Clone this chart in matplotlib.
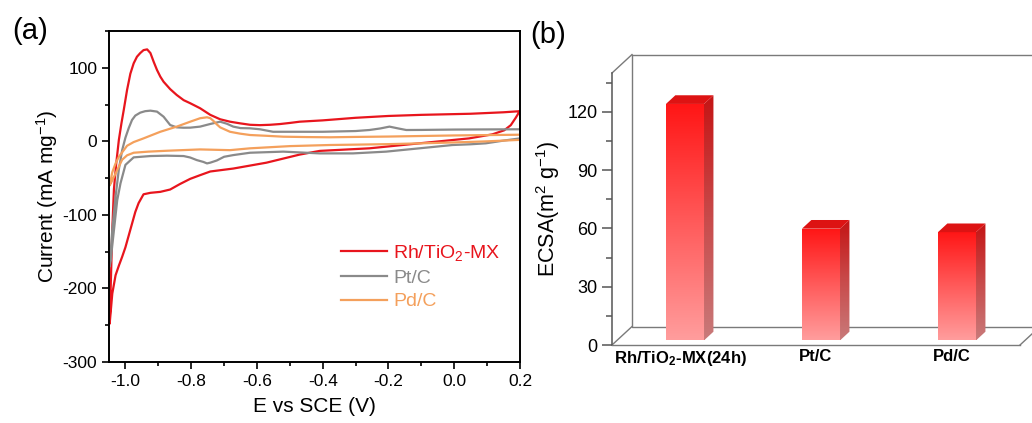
import numpy as np
import matplotlib.pyplot as plt
from matplotlib.colors import LinearSegmentedColormap
from matplotlib.patches import Polygon
from matplotlib.ticker import MultipleLocator

plt.rcParams['font.family'] = ['Liberation Sans', 'DejaVu Sans']
plt.rcParams['mathtext.fontset'] = 'custom'
plt.rcParams['mathtext.rm'] = 'Liberation Sans'
plt.rcParams['mathtext.it'] = 'Liberation Sans:italic'
plt.rcParams['mathtext.bf'] = 'Liberation Sans:bold'
plt.rcParams['axes.unicode_minus'] = False

# (a) CV curves
rh_up_x = [-1.048, -1.044, -1.040, -1.035, -1.028, -1.020, -1.012, -1.005, -0.995, -0.985,
           -0.975, -0.965, -0.955, -0.945, -0.934, -0.924, -0.914, -0.904, -0.894, -0.884,
           -0.864, -0.844, -0.823, -0.803, -0.773, -0.742, -0.712, -0.682, -0.652, -0.621,
           -0.591, -0.560, -0.530, -0.500, -0.470, -0.40, -0.30, -0.20, -0.10, 0.0, 0.05,
           0.10, 0.15, 0.20]
rh_up_y = [-248, -185, -120, -65, -30, 2, 25, 43, 70, 92,
           106, 115, 120, 124, 125, 120, 108, 97, 88, 81,
           71, 63, 56, 51.8, 45, 36, 30, 26.7, 24.5, 22.5,
           22, 22.5, 23.5, 25, 26.7, 28.5, 32, 34.5, 36, 37, 37.5,
           38.5, 39.5, 41]
rh_dn_x = [0.20, 0.195, 0.187, 0.172, 0.152, 0.116, 0.045, -0.106, -0.258, -0.409,
           -0.47, -0.571, -0.672, -0.742, -0.773, -0.803, -0.834, -0.864, -0.894, -0.924,
           -0.945, -0.960, -0.970, -0.980, -0.990, -1.000, -1.010, -1.020, -1.030, -1.040,
           -1.048]
rh_dn_y = [41, 38, 32, 22, 15, 9.5, 4, -2.7, -9.5, -13,
           -18, -29, -37, -41, -46, -51, -58, -65.5, -68.7, -70,
           -72, -84, -96, -112, -128, -144, -157, -169, -182, -207,
           -248]

pt_up_x = [-1.048, -1.040, -1.030, -1.020, -1.010, -1.000, -0.990, -0.980, -0.970, -0.955,
           -0.940, -0.924, -0.904, -0.884, -0.864, -0.844, -0.823, -0.803, -0.773, -0.742,
           -0.712, -0.692, -0.672, -0.650, -0.621, -0.591, -0.551, -0.50, -0.40, -0.30,
           -0.258, -0.225, -0.197, -0.170, -0.146, -0.10, 0.0, 0.10, 0.20]
pt_up_y = [-170, -120, -75, -38, -12, 5, 18, 29, 35, 39,
           41, 41.7, 40.4, 33.5, 22.2, 19, 18.5, 18.6, 20, 23.6,
           26.7, 24, 20, 18, 17.7, 16.4, 13, 13, 13, 14,
           15.4, 17.5, 20, 17.5, 15.4, 15.5, 16, 16.2, 16.4]
pt_dn_x = [0.20, 0.15, 0.096, 0.05, -0.005, -0.106, -0.207, -0.308, -0.409, -0.52,
           -0.621, -0.672, -0.700, -0.722, -0.742, -0.752, -0.763, -0.783, -0.803, -0.823,
           -0.874, -0.924, -0.975, -1.000, -1.015, -1.025, -1.036, -1.045, -1.048]
pt_dn_y = [4, 1, -2.7, -4, -5, -9.5, -14, -16.4, -16.4, -14,
           -15.5, -18.7, -21, -26, -29, -30, -28, -25.5, -22, -20,
           -19.5, -20, -21.8, -32, -57, -80, -125, -162, -170]

pd_up_x = [-1.048, -1.040, -1.030, -1.020, -1.005, -0.995, -0.975, -0.945, -0.894, -0.844,
           -0.803, -0.773, -0.752, -0.742, -0.733, -0.722, -0.712, -0.692, -0.682, -0.652,
           -0.621, -0.57, -0.52, -0.45, -0.379, -0.30, -0.2, -0.106, 0.0, 0.10, 0.20]
pd_up_y = [-60, -42, -30, -21, -12, -6, -1, 4, 13, 20,
           26.7, 31.4, 32.7, 31.5, 28, 23, 19, 15, 13, 10.5,
           8.6, 7.5, 6.3, 5.8, 5.5, 6, 6.5, 7.2, 8, 8.5, 9]
pd_dn_x = [0.20, 0.10, 0.0, -0.1, -0.2, -0.3, -0.379, -0.5, -0.621, -0.682,
           -0.773, -0.874, -0.930, -0.975, -0.995, -1.010, -1.025, -1.040, -1.048]
pd_dn_y = [2, 0, -1.5, -2.7, -3.8, -4.5, -5, -6.5, -9.5, -12,
           -11, -12.8, -14, -15.5, -19, -25, -39, -53, -60]

# (b) ECSA bars
categories = ['Rh/TiO$_\\mathbf{2}$-MX(24h)', 'Pt/C', 'Pd/C']
ecsa = [121.7, 57.5, 55.7]

red = '#e8151d'
gray = '#8a8a8a'
orange = '#f4a05c'

fig = plt.figure(figsize=(10.32, 4.23), dpi=100)

# ---------- panel (a) ----------
ax = fig.add_axes([109 / 1032, 61 / 423, 411 / 1032, 331 / 423])
ax.plot(rh_dn_x + rh_up_x, rh_dn_y + rh_up_y, color=red, lw=1.6, label='Rh/TiO$_2$-MX')
ax.plot(pt_dn_x + pt_up_x, pt_dn_y + pt_up_y, color=gray, lw=1.6, label='Pt/C')
ax.plot(pd_dn_x + pd_up_x, pd_dn_y + pd_up_y, color=orange, lw=1.6, label='Pd/C')
ax.set_xlim(-1.05, 0.2)
ax.set_ylim(-300, 150)
ax.set_xticks([-1.0, -0.8, -0.6, -0.4, -0.2, 0.0, 0.2])
ax.set_yticks([-300, -200, -100, 0, 100])
ax.xaxis.set_minor_locator(MultipleLocator(0.1))
ax.yaxis.set_minor_locator(MultipleLocator(50))
ax.tick_params(which='both', direction='out', width=1.2, labelsize=12.5)
ax.tick_params(which='major', length=5)
ax.tick_params(which='minor', length=3)
for s in ax.spines.values():
    s.set_linewidth(1.4)
ax.set_xlabel('E vs SCE (V)', fontsize=15, labelpad=6)
ax.set_ylabel('Current (mA mg$^{-1}$)', fontsize=15, labelpad=2)
ax.legend(loc='center left', bbox_to_anchor=(0.564, 0.258), frameon=False,
          fontsize=14, labelcolor='linecolor', handlelength=2.4, handletextpad=0.3,
          labelspacing=0.32, borderpad=0, borderaxespad=0)
fig.text(12 / 1032, 1 - 31 / 423, '(a)', fontsize=21, va='center', ha='left')

# ---------- panel (b) ----------
ax2 = fig.add_axes([612 / 1032, 78 / 423, 408 / 1032, 272 / 423])
x0l, x1l = -0.5, 2.5
ytop = 140
ax2.set_xlim(x0l, x1l)
ax2.set_ylim(0, ytop)
DX, DY = 0.147, 9.5
d0, d1 = 0.25, 0.72
dd = d1 - d0
pos = np.arange(len(categories))

wall = '#7a7a7a'
# back wall and side diagonals
ax2.plot([x0l + DX, x0l + DX, x1l + DX + 1], [ytop + DY, DY, DY], color=wall, lw=1, clip_on=False, zorder=1)
ax2.plot([x0l + DX, x1l + DX + 1], [ytop + DY, ytop + DY], color=wall, lw=1, clip_on=False, zorder=1)
ax2.plot([x0l, x0l + DX], [ytop, ytop + DY], color=wall, lw=1, clip_on=False, zorder=1)
ax2.plot([x0l, x0l + DX], [0, DY], color=wall, lw=1, clip_on=False, zorder=1)
ax2.plot([x1l, x1l + DX], [0, DY], color=wall, lw=1, clip_on=False, zorder=1)

front_cmap = LinearSegmentedColormap.from_list('front', ['#ff9d9d', '#ff5a5a', '#ff1515'])
side_cmap = LinearSegmentedColormap.from_list('side', ['#c97a7a', '#c84a4a', '#c41414'])
grad = np.linspace(0, 1, 256).reshape(-1, 1)

bars = ax2.bar(pos + d0 * DX, ecsa, 0.28, bottom=d0 * DY, color='none', edgecolor='none', zorder=3)
for rect in bars:
    bx, by, bw, bh = rect.get_x(), rect.get_y(), rect.get_width(), rect.get_height()
    im = ax2.imshow(grad, extent=[bx, bx + bw, by, by + bh], cmap=front_cmap,
                    aspect='auto', origin='lower', zorder=3)
    im.set_clip_path(rect)
    side = Polygon([(bx + bw, by), (bx + bw + dd * DX, by + dd * DY),
                    (bx + bw + dd * DX, by + bh + dd * DY), (bx + bw, by + bh)],
                   closed=True, facecolor='none', edgecolor='none')
    ax2.add_patch(side)
    im2 = ax2.imshow(grad, extent=[bx + bw, bx + bw + dd * DX, by, by + bh + dd * DY],
                     cmap=side_cmap, aspect='auto', origin='lower', zorder=3)
    im2.set_clip_path(side)
    top = Polygon([(bx, by + bh), (bx + bw, by + bh), (bx + bw + dd * DX, by + bh + dd * DY),
                   (bx + dd * DX, by + bh + dd * DY)], closed=True,
                  facecolor='#dd1313', edgecolor='none', zorder=3)
    ax2.add_patch(top)

ax2.set_xlim(x0l, x1l)
ax2.set_ylim(0, ytop)
ax2.spines['top'].set_visible(False)
ax2.spines['right'].set_visible(False)
ax2.spines['left'].set_color('#555555')
ax2.spines['bottom'].set_color(wall)
ax2.spines['left'].set_linewidth(1.1)
ax2.spines['bottom'].set_linewidth(1)
ax2.set_yticks([0, 30, 60, 90, 120])
ax2.yaxis.set_minor_locator(MultipleLocator(15))
ax2.tick_params(axis='y', which='both', direction='out', color='#555555', labelsize=13)
ax2.tick_params(axis='y', which='major', length=7, width=1.1)
ax2.tick_params(axis='y', which='minor', length=4, width=1.1)
ax2.set_xticks(pos)
ax2.set_xticklabels(categories, fontweight='bold', fontsize=12)
ax2.tick_params(axis='x', length=0, pad=3)
ax2.set_ylabel('ECSA(m$^2$ g$^{-1}$)', fontsize=15.5, labelpad=4)
fig.text(530 / 1032, 1 - 35 / 423, '(b)', fontsize=21, va='center', ha='left')

fig.savefig('out.png', dpi=100)
